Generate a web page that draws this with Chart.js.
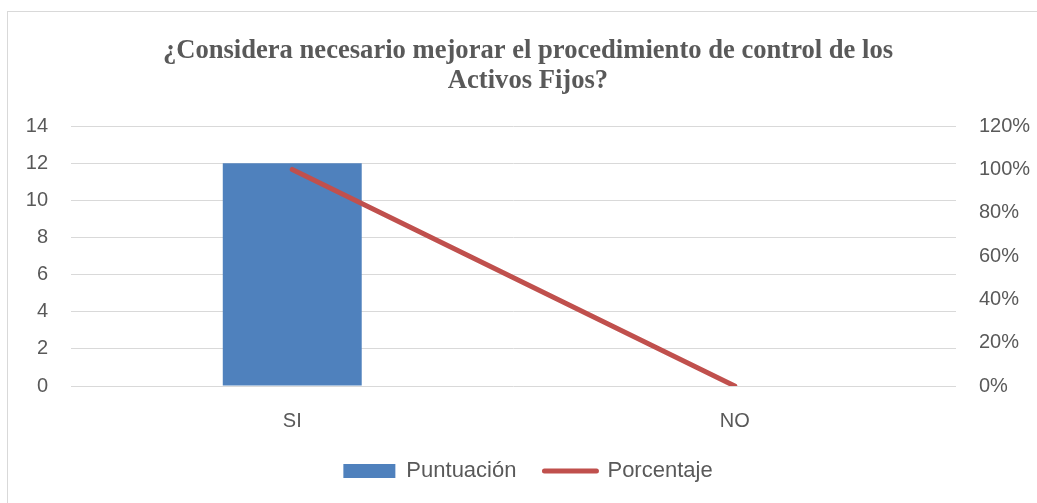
<!DOCTYPE html>
<html>
<head>
<meta charset="utf-8">
<script src="https://cdn.jsdelivr.net/npm/chart.js@4"></script>
<style>
  html, body { margin: 0; padding: 0; background: #fff; overflow: hidden; }
  #frame { position: absolute; left: 7px; top: 11px; width: 1100px; height: 600px; border: 1px solid #d9d9d9; }
  #wrap { position: absolute; left: 0; top: 0; width: 1037px; height: 503px; }
</style>
</head>
<body>
<div id="frame"></div>
<div id="wrap"><canvas id="chart"></canvas></div>
<script>
const categories = ['SI', 'NO']
const puntuacion = [12, 0]
const porcentaje = [1.0, 0]
const titleLines = ['¿Considera necesario mejorar el procedimiento de control de los', 'Activos Fijos?']

const textColor = '#595959'
const gridColor = '#d9d9d9'
const barColor = '#4f81bd'
const lineColor = '#c0504d'
const tickFont = { family: 'Liberation Sans', size: 20 }

const ctx = document.getElementById('chart').getContext('2d')

new Chart(ctx, {
  type: 'bar',
  data: {
    labels: categories,
    datasets: [
      {
        label: 'Puntuación',
        data: puntuacion,
        backgroundColor: barColor,
        borderWidth: 0,
        categoryPercentage: 1,
        barPercentage: 0.314,
        yAxisID: 'y',
        order: 1
      },
      {
        type: 'line',
        label: 'Porcentaje',
        data: porcentaje,
        borderColor: lineColor,
        backgroundColor: lineColor,
        borderWidth: 5,
        borderCapStyle: 'round',
        pointRadius: 0,
        tension: 0,
        yAxisID: 'y1',
        order: 0
      }
    ]
  },
  options: {
    responsive: true,
    maintainAspectRatio: false,
    animation: false,
    layout: { padding: { left: 19, right: 0, top: 0, bottom: 11 } },
    plugins: {
      title: {
        display: true,
        text: titleLines,
        color: textColor,
        font: { family: 'Liberation Serif', size: 26.6, weight: 'bold', lineHeight: 1.13 },
        padding: { top: 36, bottom: 30 }
      },
      legend: {
        position: 'bottom',
        labels: {
          color: textColor,
          font: { family: 'Liberation Sans', size: 22 },
          usePointStyle: true,
          pointStyleWidth: 52,
          boxHeight: 14,
          padding: 28,
          generateLabels: () => [
            { text: 'Puntuación', fillStyle: barColor, strokeStyle: barColor, lineWidth: 0, pointStyle: 'rect', fontColor: textColor, datasetIndex: 0 },
            { text: 'Porcentaje', fillStyle: lineColor, strokeStyle: lineColor, lineWidth: 5, lineCap: 'round', pointStyle: 'line', fontColor: textColor, datasetIndex: 1 }
          ]
        }
      },
      tooltip: { enabled: false }
    },
    scales: {
      x: {
        grid: { display: false },
        border: { display: false },
        ticks: { color: textColor, font: tickFont, padding: 15 },
        afterFit: (scale) => { scale.height = 46 }
      },
      y: {
        position: 'left',
        min: 0,
        max: 14,
        ticks: { stepSize: 2, color: textColor, font: tickFont, padding: 23 },
        grid: { color: gridColor, lineWidth: 1, drawTicks: false },
        border: { display: false },
        afterFit: (scale) => { scale.width = 52 }
      },
      y1: {
        position: 'right',
        min: 0,
        max: 1.2,
        ticks: {
          stepSize: 0.2,
          color: textColor,
          font: tickFont,
          padding: 23,
          callback: (value) => `${Math.round(value * 100)}%`
        },
        grid: { display: false, drawTicks: false },
        border: { display: false },
        afterFit: (scale) => { scale.width = 81 }
      }
    }
  }
})
</script>
</body>
</html>
